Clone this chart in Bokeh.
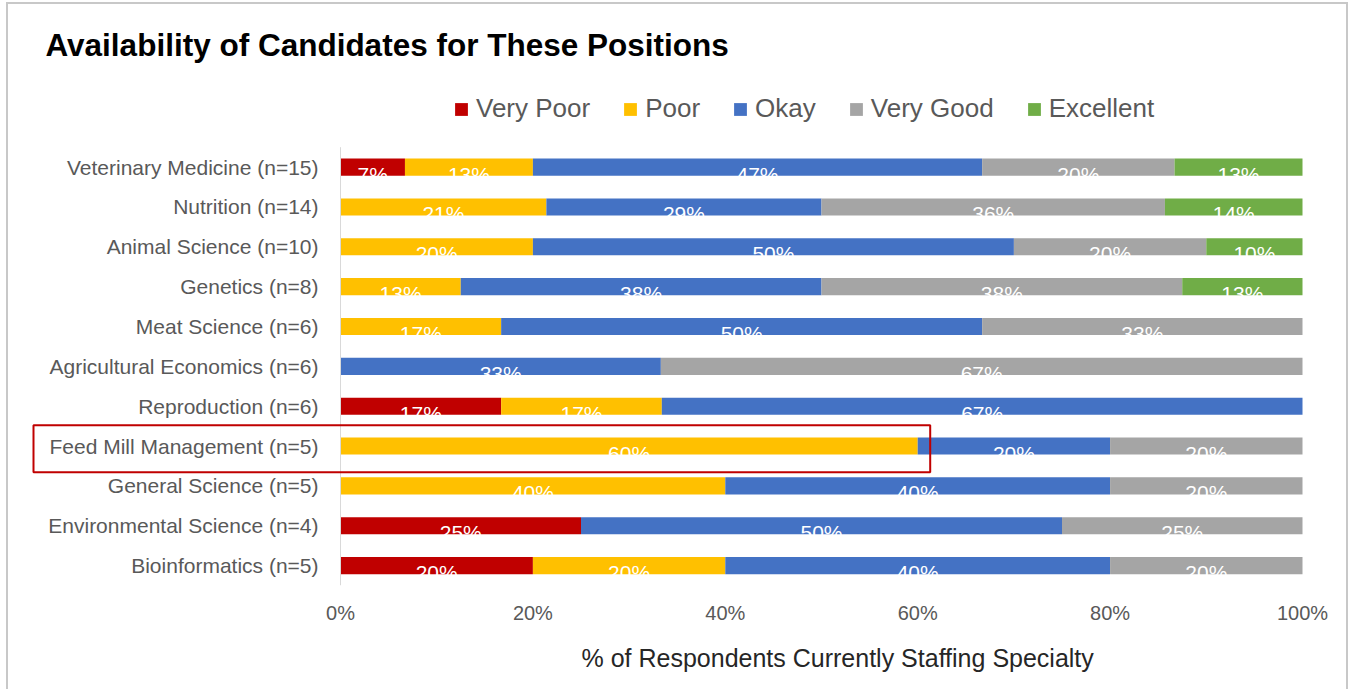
from bokeh.plotting import figure
from bokeh.models import (ColumnDataSource, FactorRange, Range1d, FixedTicker,
                          PrintfTickFormatter, BoxAnnotation, Legend, Title)
from bokeh.core.properties import value
from bokeh.embed import file_html
from bokeh.resources import INLINE

# ---- data ----
categories = ["Veterinary Medicine (n=15)", "Nutrition (n=14)", "Animal Science (n=10)",
              "Genetics (n=8)", "Meat Science (n=6)", "Agricultural Economics (n=6)",
              "Reproduction (n=6)", "Feed Mill Management (n=5)", "General Science (n=5)",
              "Environmental Science (n=4)", "Bioinformatics (n=5)"]
very_poor = [6.7, 0, 0, 0, 0, 0, 16.7, 0, 0, 25, 20]
poor = [13.3, 21.4, 20, 12.5, 16.7, 0, 16.7, 60, 40, 0, 20]
okay = [46.7, 28.6, 50, 37.5, 50, 33.3, 66.6, 20, 40, 50, 40]
very_good = [20, 35.7, 20, 37.5, 33.3, 66.7, 0, 20, 20, 25, 20]
excellent = [13.3, 14.3, 10, 12.5, 0, 0, 0, 0, 0, 0, 0]
series_names = ["Very Poor", "Poor", "Okay", "Very Good", "Excellent"]
series_keys = ["very_poor", "poor", "okay", "very_good", "excellent"]
colors = ["#C00000", "#FFC000", "#4472C4", "#A5A5A5", "#70AD47"]
x_ticks = [0, 20, 40, 60, 80, 100]
highlight = "Feed Mill Management (n=5)"

FONT = "Liberation Sans"
W, H = 1350, 689
PLOT_L, PLOT_R = 340, 1302          # pixel span of 0%..100%
px = 100.0 / (PLOT_R - PLOT_L)      # data units per pixel

data = dict(cat=categories, very_poor=very_poor, poor=poor, okay=okay,
            very_good=very_good, excellent=excellent)
source = ColumnDataSource(data)

# two empty rows on top of the category scale leave room for the legend
factors = list(reversed(categories)) + ["", " "]
p = figure(width=W, height=H, y_range=FactorRange(factors=factors),
           x_range=Range1d(-PLOT_L * px, (W - PLOT_L) * px),
           y_axis_location=None,
           output_backend="svg", toolbar_location=None,
           min_border_left=0, min_border_right=0, min_border_top=67,
           min_border_bottom=104)
p.background_fill_alpha = 0
p.border_fill_alpha = 0
p.outline_line_color = None
p.xgrid.visible = False
p.ygrid.visible = False

renderers = p.hbar_stack(series_keys, y="cat", height=0.43, color=colors,
                         source=source, line_color=None)

# category labels and the vertical axis line at 0%
p.text(x=0, y="cat", text="cat", source=source, x_offset=-22,
       text_align="right", text_baseline="middle", text_color="#595959",
       text_font=value(FONT), text_font_size="21px")
p.segment(x0=[0], y0=[0], x1=[0], y1=[len(categories)],
          line_color="#d9d9d9", line_width=1)

# segment labels
lx, ly, lt = [], [], []
for i, c in enumerate(categories):
    cum = 0.0
    for k in series_keys:
        v = data[k][i]
        if v > 0:
            lx.append(cum + v / 2)
            ly.append(c)
            lt.append("%d%%" % int(v + 0.5))
        cum += v
p.text(x="x", y="y", text="t", source=ColumnDataSource(dict(x=lx, y=ly, t=lt)),
       text_color="white", text_align="center", text_baseline="alphabetic",
       text_font=value(FONT), text_font_size="21px", y_offset=7)

# legend
legend = Legend(items=[(n, [r]) for n, r in zip(series_names, renderers)],
                orientation="horizontal", location=(453, 461),
                label_text_font=FONT, label_text_font_size="26px",
                label_text_color="#595959", glyph_width=16, glyph_height=16,
                label_standoff=7, spacing=32, padding=0, margin=0,
                border_line_color=None, background_fill_alpha=0)
p.add_layout(legend, "center")

# title
p.title.text = "Availability of Candidates for These Positions"
p.title.text_font = FONT
p.title.text_font_size = "31.5px"
p.title.text_font_style = "bold"
p.title.text_color = "black"
p.title.align = "left"
p.title.offset = 45
p.title.standoff = 9

# x axis
p.xaxis.ticker = FixedTicker(ticks=x_ticks)
p.xaxis.formatter = PrintfTickFormatter(format="%d%%")
p.xaxis.axis_line_color = None
p.xaxis.major_tick_line_color = None
p.xaxis.minor_tick_line_color = None
p.xaxis.major_tick_out = 0
p.xaxis.major_label_standoff = 16
p.xaxis.major_label_text_font = FONT
p.xaxis.major_label_text_font_size = "20px"
p.xaxis.major_label_text_color = "#595959"

# x axis title, centred under the bars
xlabel = Title(text="% of Respondents Currently Staffing Specialty", align="left",
               offset=581, text_font=FONT, text_font_size="25px",
               text_font_style="normal", text_color="#262626", standoff=30)
p.add_layout(xlabel, "below")

# highlight box around one category
hi = factors.index(highlight) + 0.5
p.add_layout(BoxAnnotation(left=33, left_units="canvas", right=61.3,
                           top=hi + 0.52, bottom=hi - 0.66,
                           fill_alpha=0, line_color="#C00000", line_alpha=1,
                           line_width=2))

# light outer border of the chart area
g = "linear-gradient(#c8c8c8,#c8c8c8)"
p.styles = {
    "background-image": ", ".join([g, g, g]),
    "background-position": "6px 2px, 1346px 2px, 6px 2px",
    "background-size": "2px 100%, 2px 100%, 1342px 2px",
    "background-repeat": "no-repeat",
}

open("out.html", "w").write(file_html(p, INLINE))
